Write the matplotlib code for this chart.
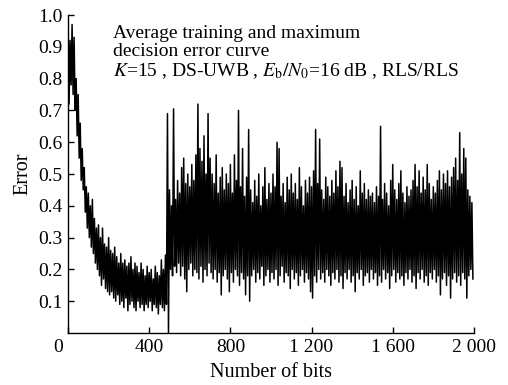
import matplotlib
matplotlib.use("Agg")
import matplotlib.pyplot as plt
import matplotlib.transforms as mtransforms

plt.rcParams['font.family'] = 'Liberation Serif'
plt.rcParams['mathtext.fontset'] = 'stix'

# Error envelope, one (peak, trough) pair per 10-bit block
block_start = list(range(0, 2000, 10))

peak = [
    1.00, 0.92, 0.97, 0.93, 0.80, 0.75, 0.66, 0.58, 0.52, 0.46,   # 0-90
    0.44, 0.40, 0.42, 0.36, 0.33, 0.34, 0.30, 0.33, 0.28, 0.27,   # 100-190
    0.30, 0.26, 0.25, 0.27, 0.24, 0.22, 0.25, 0.22, 0.23, 0.21,   # 200-290
    0.22, 0.24, 0.20, 0.22, 0.21, 0.19, 0.22, 0.20, 0.18, 0.21,   # 300-390
    0.19, 0.20, 0.17, 0.21, 0.19, 0.18, 0.23, 0.20, 0.245, 0.69,  # 400-490
    0.45, 0.40, 0.705, 0.42, 0.48, 0.44, 0.52, 0.55, 0.47, 0.50,  # 500-590
    0.46, 0.53, 0.48, 0.56, 0.72, 0.58, 0.54, 0.62, 0.50, 0.69,   # 600-690
    0.55, 0.50, 0.47, 0.56, 0.44, 0.49, 0.52, 0.45, 0.50, 0.47,   # 700-790
    0.53, 0.44, 0.56, 0.48, 0.70, 0.46, 0.58, 0.43, 0.49, 0.64,   # 800-890
    0.45, 0.41, 0.48, 0.43, 0.50, 0.40, 0.46, 0.52, 0.42, 0.47,   # 900-990
    0.44, 0.50, 0.46, 0.60, 0.58, 0.43, 0.47, 0.41, 0.49, 0.45,   # 1000-1090
    0.50, 0.44, 0.47, 0.42, 0.52, 0.46, 0.40, 0.48, 0.44, 0.49,   # 1100-1190
    0.46, 0.51, 0.64, 0.47, 0.61, 0.45, 0.42, 0.49, 0.46, 0.43,   # 1200-1290
    0.48, 0.44, 0.51, 0.46, 0.54, 0.52, 0.43, 0.47, 0.41, 0.45,   # 1300-1390
    0.48, 0.42, 0.46, 0.40, 0.51, 0.44, 0.47, 0.42, 0.45, 0.43,   # 1400-1490
    0.44, 0.41, 0.46, 0.43, 0.65, 0.42, 0.47, 0.44, 0.40, 0.48,   # 1500-1590
    0.53, 0.45, 0.42, 0.47, 0.51, 0.44, 0.41, 0.46, 0.43, 0.45,   # 1600-1690
    0.48, 0.53, 0.46, 0.51, 0.44, 0.49, 0.45, 0.53, 0.47, 0.42,   # 1700-1790
    0.46, 0.44, 0.48, 0.51, 0.45, 0.50, 0.47, 0.51, 0.46, 0.49,   # 1800-1890
    0.52, 0.55, 0.48, 0.63, 0.50, 0.58, 0.55, 0.45, 0.43, 0.41,   # 1900-1990
]

trough = [
    0.72, 0.78, 0.75, 0.70, 0.62, 0.55, 0.48, 0.45, 0.38, 0.33,   # 0-90
    0.30, 0.27, 0.25, 0.22, 0.20, 0.18, 0.15, 0.17, 0.14, 0.13,   # 100-190
    0.12, 0.13, 0.11, 0.10, 0.12, 0.09, 0.10, 0.08, 0.11, 0.07,   # 200-290
    0.09, 0.10, 0.08, 0.07, 0.10, 0.08, 0.09, 0.07, 0.09, 0.08,   # 300-390
    0.10, 0.07, 0.09, 0.08, 0.06, 0.09, 0.08, 0.07, 0.09, 0.00,   # 400-490
    0.20, 0.18, 0.21, 0.19, 0.22, 0.18, 0.21, 0.17, 0.13, 0.20,   # 500-590
    0.22, 0.18, 0.20, 0.19, 0.17, 0.21, 0.16, 0.20, 0.18, 0.22,   # 600-690
    0.19, 0.17, 0.20, 0.16, 0.19, 0.12, 0.18, 0.20, 0.17, 0.13,   # 700-790
    0.19, 0.16, 0.20, 0.18, 0.15, 0.19, 0.17, 0.12, 0.18, 0.10,   # 800-890
    0.18, 0.20, 0.16, 0.19, 0.17, 0.21, 0.15, 0.18, 0.20, 0.16,   # 900-990
    0.19, 0.17, 0.20, 0.15, 0.18, 0.21, 0.16, 0.19, 0.18, 0.14,   # 1000-1090
    0.20, 0.17, 0.19, 0.15, 0.18, 0.20, 0.16, 0.19, 0.17, 0.13,   # 1100-1190
    0.11, 0.18, 0.16, 0.20, 0.17, 0.19, 0.16, 0.20, 0.18, 0.15,   # 1200-1290
    0.19, 0.17, 0.20, 0.16, 0.18, 0.14, 0.19, 0.17, 0.20, 0.16,   # 1300-1390
    0.18, 0.13, 0.19, 0.17, 0.20, 0.15, 0.18, 0.19, 0.16, 0.20,   # 1400-1490
    0.17, 0.19, 0.15, 0.18, 0.16, 0.20, 0.17, 0.19, 0.14, 0.18,   # 1500-1590
    0.20, 0.16, 0.19, 0.17, 0.18, 0.15, 0.19, 0.17, 0.20, 0.16,   # 1600-1690
    0.18, 0.14, 0.19, 0.17, 0.20, 0.16, 0.18, 0.15, 0.19, 0.17,   # 1700-1790
    0.20, 0.16, 0.18, 0.12, 0.17, 0.19, 0.15, 0.18, 0.11, 0.17,   # 1800-1890
    0.19, 0.16, 0.18, 0.15, 0.19, 0.17, 0.11, 0.18, 0.20, 0.17,   # 1900-1990
]

x_ticks = [0, 400, 800, 1200, 1600, 2000]
x_tick_labels = ['0', '400', '800', '1 200', '1 600', '2 000']
y_ticks = [0.1, 0.2, 0.3, 0.4, 0.5, 0.6, 0.7, 0.8, 0.9, 1.0]

# each block drawn as peak then trough, half a block apart
bits = []
err = []
for b, hi, lo in zip(block_start, peak, trough):
    bits += [b, b + 5]
    err += [hi, lo]

fig = plt.figure(figsize=(5.08, 3.85), dpi=100)
ax = fig.add_axes([0.1339, 0.135, 0.799, 0.826])
ax.plot(bits, err, color='black', linewidth=1.1)

ax.set_xlim(0, 2000)
ax.set_ylim(0, 1.0)
ax.spines['top'].set_visible(False)
ax.spines['right'].set_visible(False)
ax.spines['left'].set_linewidth(1.0)
ax.spines['bottom'].set_linewidth(1.0)

ax.set_xticks(x_ticks, x_tick_labels)
ax.set_yticks(y_ticks, [f'{v:.1f}' for v in y_ticks])
ax.tick_params(direction='in', length=4, width=1.0, labelsize=14, pad=4)
# the "0" sits a bit left of the spine in the reference
zero_lbl = ax.get_xticklabels()[0]
zero_lbl.set_transform(zero_lbl.get_transform() +
                       mtransforms.ScaledTranslation(-10 / 100, 0, fig.dpi_scale_trans))

ax.set_xlabel('Number of bits', fontsize=14.5, labelpad=5)
ax.set_ylabel('Error', fontsize=14.5, labelpad=4)

ax.text(0.111, 0.97,
        'Average training and maximum\ndecision error curve\n'
        r'$K$=15 , DS-UWB , $E_{\mathrm{b}}/N_{0}$=16 dB , RLS/RLS',
        transform=ax.transAxes, fontsize=14, va='top', ha='left', linespacing=1.1)

fig.savefig('out.png', dpi=100)
